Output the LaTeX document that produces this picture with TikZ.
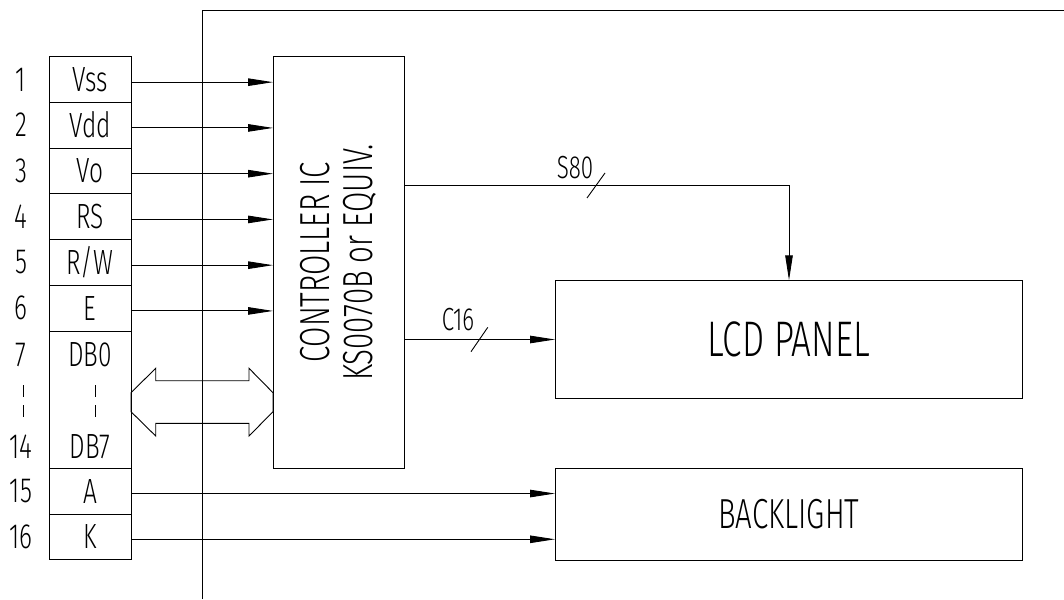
\documentclass[tikz,border=0pt]{standalone}
\usepackage{fontspec}
\setmainfont{Fira Sans Light}[FakeStretch=0.7]
\usetikzlibrary{arrows.meta}
\newcommand\fsz[1]{\fontsize{#1}{#1}\selectfont}
\begin{document}
\begin{tikzpicture}[x=1pt,y=-1pt,line width=0.9pt,
  cell/.style={draw,minimum width=82pt,minimum height=45.75pt,inner sep=0pt,outer sep=0pt,anchor=north west,font=\fsz{35pt}},
  txt/.style={inner sep=0pt,font=\fsz{35pt}},
  blk/.style={draw,inner sep=0pt,outer sep=0pt},
  sig/.style={-{Triangle[length=25pt,width=7.5pt]}},
]
\useasboundingbox (0,0) rectangle (1064,599);

% frame
\draw (202,599) -- (202,10) -- (1064,10);

% pin table
\node[cell] (c1) at (49,56.5) {Vss};
\node[cell] (c2) at (49,102.25) {Vdd};
\node[cell] (c3) at (49,148) {Vo};
\node[cell] (c4) at (49,193.75) {RS};
\node[cell] (c5) at (49,239.5) {R/W};
\node[cell] (c6) at (49,285.25) {E};
\node[cell,minimum height=137.25pt] (c7) at (49,331) {};
\node[cell] (c15) at (49,468.25) {A};
\node[cell] (c16) at (49,514) {K};

\foreach \i in {1,2,3,4,5,6,15,16} {
  \node[txt] (n\i) at ([xshift=-69pt]c\i.center) {\i};
}
\node[txt] (d0) at (90,355) {DB0};
\node[txt] (n7) at (21,355) {7};
\node[txt] (d7) at (90,446.7) {DB7};
\node[txt] (n14) at (21,446.7) {14};
\draw[dash pattern=on 11.7pt off 8.3pt] (23,385) -- (23,417);
\draw[dash pattern=on 11.7pt off 8.3pt] (95,385) -- (95,417);

% controller
\node[blk,minimum width=131pt,minimum height=411.75pt] (ctrl) at (338.5,262.4) {};
\node[rotate=90,align=center,inner sep=0pt,font=\fontsize{42pt}{43.3pt}\selectfont] (ctrltxt) at (338.5,262.4) {CONTROLLER IC\\KS0070B or EQUIV.};

% LCD panel and backlight
\node[blk,minimum width=467.7pt,minimum height=118.4pt,font=\fsz{50pt}] (lcd) at (788.85,339.5) {LCD PANEL};
\node[blk,minimum width=467.7pt,minimum height=91.3pt,font=\fsz{42pt}] (bl) at (788.85,514.35) {BACKLIGHT};

% signal arrows
\foreach \i in {1,...,6} {
  \coordinate (p\i) at ([yshift=-2.8pt]c\i.east);
  \draw[sig] (p\i) -- (p\i -| ctrl.west);
}
\coordinate (pA) at ([yshift=-2.4pt]c15.east);
\draw[sig] (pA) -- (pA -| bl.west);
\coordinate (pK) at ([yshift=-2.4pt]c16.east);
\draw[sig] (pK) -- (pK -| bl.west);

% data bus double arrow
\draw (c7.east |- 0,392.7) -- ++(24.7,-24.4) -- ++(0,12.4) -- (249,380.7) -- ++(0,-12.4)
  -- (ctrl.west |- 0,392.7) -- (ctrl.west |- 0,411.7) -- ++(-24,24.3) -- ++(0,-12.7)
  -- (155.7,423.3) -- ++(0,12.7) -- (c7.east |- 0,411.7) -- cycle;

% S80
\coordinate (sturn) at (789,185);
\draw[sig] (ctrl.east |- sturn) -- (sturn) -- (sturn |- lcd.north);
\coordinate (smark) at (596,185.5);
\draw (smark) +(-9,12.5) -- +(9,-12.5);
\node[txt,font=\fsz{32pt}] (s80) at (575,167.5) {S80};

% C16
\draw[sig] (ctrl.east |- lcd.west) -- (lcd.west);
\coordinate (cmark) at (479.4,339.5);
\draw (cmark) +(-8.4,12.2) -- +(8.4,-12.2);
\node[txt,font=\fsz{32pt}] (c16l) at (458,320) {C16};
\end{tikzpicture}
\end{document}
